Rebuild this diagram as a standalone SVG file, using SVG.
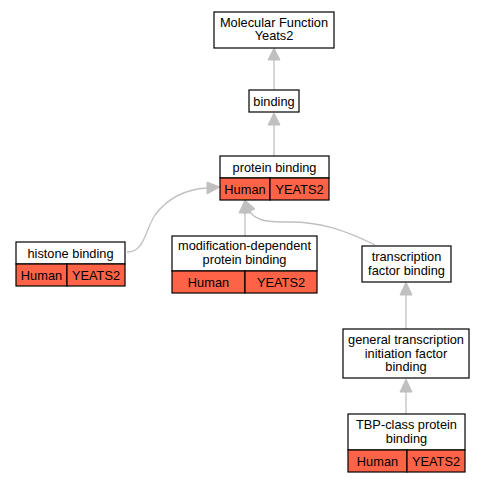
<svg xmlns="http://www.w3.org/2000/svg" width="484" height="483" viewBox="0 0 484 483">
<defs>
<style>
text{font-family:"Liberation Sans",Arial,sans-serif;font-size:12.8px;fill:#000;text-anchor:middle}
.b{fill:#fff;stroke:#000;stroke-width:1.2}
.o{fill:#ff6347;stroke:#000;stroke-width:1.2}
.e{fill:none;stroke:#c0c0c0;stroke-width:1.3}
.h{fill:#c0c0c0;stroke:#c0c0c0}
</style>
</defs>
<rect width="484" height="483" fill="#fff"/>
<g id="connectors">
<path class="e" d="M274,90 V60"/><polygon class="h" points="274,48 268,60 280,60"/>
<path class="e" d="M274,156 V125"/><polygon class="h" points="274,113 268,125 280,125"/>
<path class="e" d="M127,252 C145,252 145,230 155,215 C170,195 190,189 207,188"/><polygon class="h" points="220,187 207,182 207,194"/>
<path class="e" d="M245,236 V213"/><polygon class="h" points="245,200 239,213 251,213"/>
<path class="e" d="M375,245 C345,230 320,222 290,222 C270,222 258,222 250,212"/><polygon class="h" points="245,200 244,214 255,209"/>
<path class="e" d="M406,329 V295"/><polygon class="h" points="406,282 400,295 412,295"/>
<path class="e" d="M406,414 V392"/><polygon class="h" points="406,379 400,392 412,392"/>
</g>
<g id="mf">
<rect class="b" x="214" y="12" width="120" height="36"/>
<text x="274" y="26.5">Molecular Function</text><text x="274" y="40">Yeats2</text>
</g>
<g id="binding">
<rect class="b" x="249" y="90" width="50" height="22"/>
<text x="274" y="105.5">binding</text>
</g>
<g id="protein_binding">
<rect class="b" x="220" y="156" width="109" height="22"/>
<rect class="o" x="220" y="178" width="50" height="22"/>
<rect class="o" x="270" y="178" width="59" height="22"/>
<text x="274.5" y="171.5">protein binding</text>
<text x="245" y="193.5">Human</text><text x="299.5" y="193.5">YEATS2</text>
</g>
<g id="histone_binding">
<rect class="b" x="16" y="242" width="109" height="22"/>
<rect class="o" x="16" y="264" width="51" height="22"/>
<rect class="o" x="67" y="264" width="58" height="22"/>
<text x="70.5" y="257.5">histone binding</text>
<text x="41.5" y="279.5">Human</text><text x="96" y="279.5">YEATS2</text>
</g>
<g id="mod_dep">
<rect class="b" x="172" y="236" width="145" height="35"/>
<rect class="o" x="172" y="271" width="73" height="22"/>
<rect class="o" x="245" y="271" width="72" height="22"/>
<text x="244.5" y="249.5">modification-dependent</text><text x="244.5" y="264">protein binding</text>
<text x="208.5" y="286.5">Human</text><text x="281" y="286.5">YEATS2</text>
</g>
<g id="tf_binding">
<rect class="b" x="362" y="246" width="89" height="36"/>
<text x="406.5" y="261">transcription</text><text x="406.5" y="274.5">factor binding</text>
</g>
<g id="gtif_binding">
<rect class="b" x="343" y="329" width="126" height="49"/>
<text x="406" y="344">general transcription</text><text x="406" y="357.5">initiation factor</text><text x="406" y="371">binding</text>
</g>
<g id="tbp_binding">
<rect class="b" x="348" y="414" width="117" height="36"/>
<rect class="o" x="348" y="450" width="59" height="22"/>
<rect class="o" x="407" y="450" width="58" height="22"/>
<text x="406.5" y="429">TBP-class protein</text><text x="406.5" y="442.5">binding</text>
<text x="377.5" y="465.5">Human</text><text x="436" y="465.5">YEATS2</text>
</g>
</svg>
